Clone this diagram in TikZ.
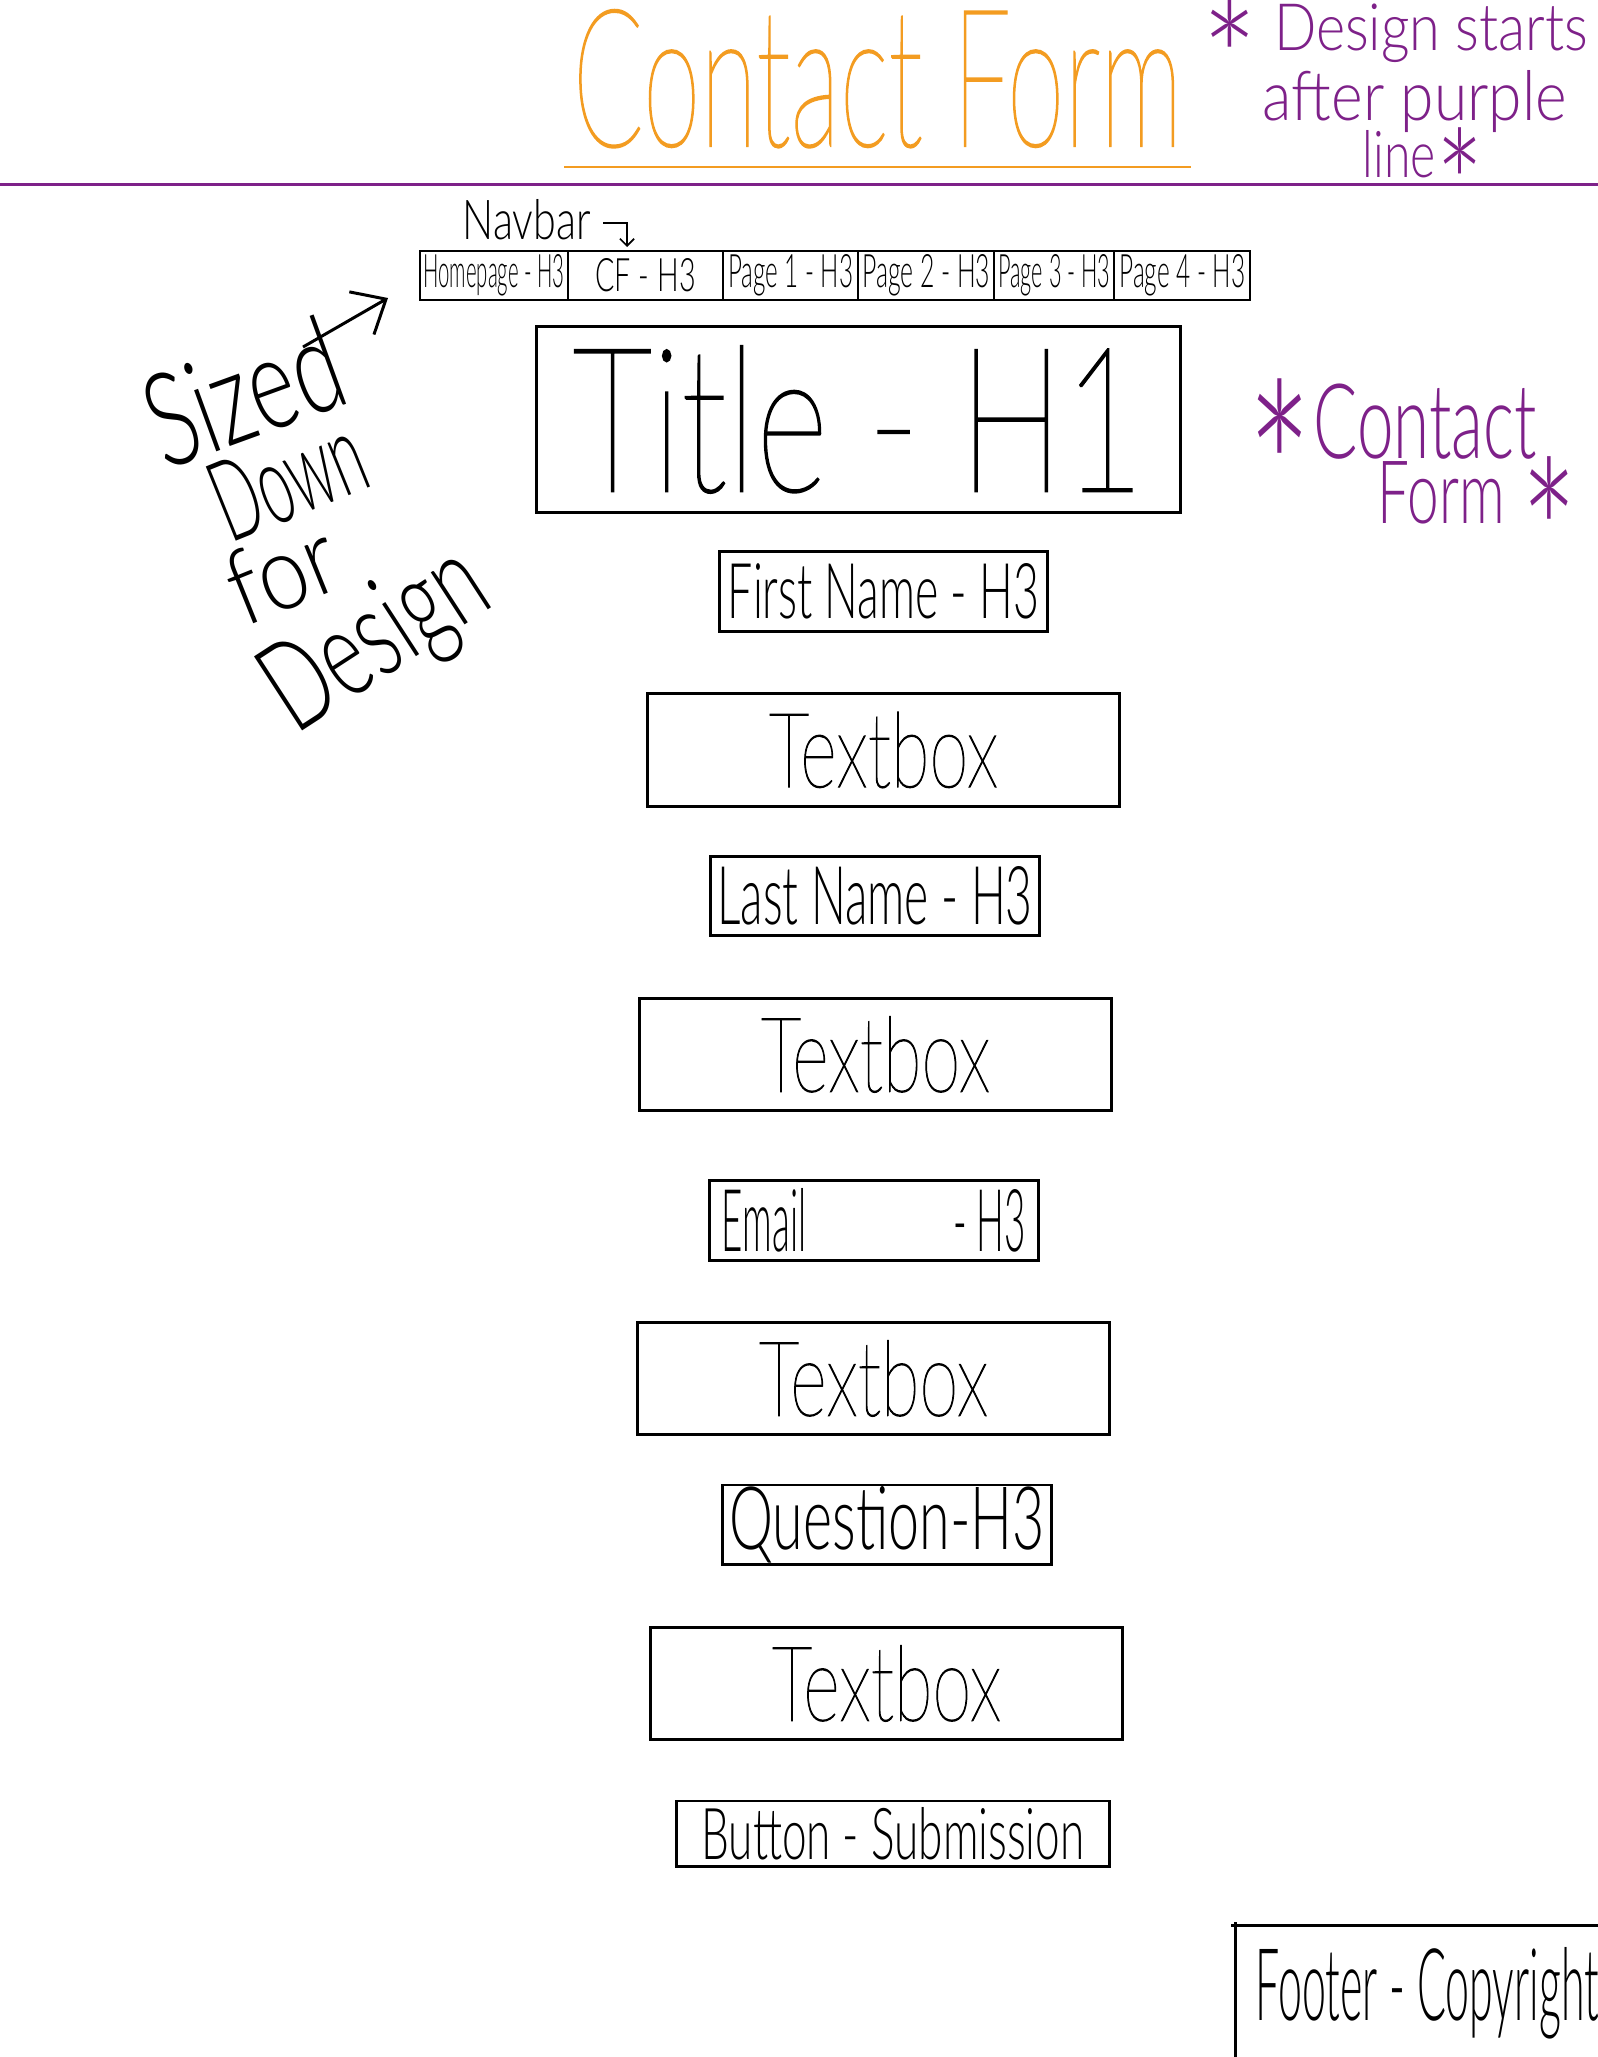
\documentclass[tikz,border=0pt]{standalone}
\usepackage{fontspec}
\IfFontExistsTF{Lato Light}{\setmainfont{Lato Light}}{\setmainfont{Liberation Sans}}
\IfFontExistsTF{Lato Thin}{\newfontfamily\penmid{Lato Thin}[FakeBold=1.2]}{\newfontfamily\penmid{Liberation Sans}}
\usepackage{graphicx}
\usetikzlibrary{positioning,arrows.meta}
\definecolor{penorange}{HTML}{F39C21}
\definecolor{penpurple}{HTML}{7E2189}
% text stretched to the size of the pen strokes
\newcommand{\inkbox}[3]{\resizebox{#1}{#2}{#3}}
\newcommand{\penstar}{\raisebox{-1.03em}[0.72em][0pt]{\scalebox{2.4}{*}}}
\tikzset{
  pagebox/.style={draw,line width=0.85pt,inner sep=0pt,outer sep=0pt},
  navcell/.style={draw,line width=0.55pt,minimum height=4.9mm,inner sep=0pt,outer sep=0pt},
  hthree/.style={pagebox,minimum width=32.8mm,minimum height=7.9mm},
  tbox/.style={pagebox,minimum width=47.1mm,minimum height=11.2mm,font=\penmid},
  scrawl/.style={inner sep=0pt},
}
\begin{document}
\begin{tikzpicture}[x=0.01cm,y=-0.01cm]
\useasboundingbox (0,0) rectangle (1598,2057);
% heading and purple line
\node[scrawl,anchor=base west,text=penorange,font=\penmid] (heading) at (572,146) {\inkbox{60.9mm}{13.6mm}{Contact Form}};
\draw[penorange,line width=0.7pt] (564,167) -- (1191,167);
\draw[penpurple,line width=0.85pt] (0,184) -- (1598,184);
\node[scrawl,anchor=base,text=penpurple] (note1) at (1395,50) {\inkbox{38.6mm}{4.7mm}{\penstar{} Design starts}};
\node[scrawl,anchor=base,text=penpurple] (note2) at (1415,120) {\inkbox{30.4mm}{5.0mm}{after purple}};
\node[scrawl,anchor=base,text=penpurple] (note3) at (1424,177) {\inkbox{12.2mm}{4.7mm}{line\penstar}};
\node[scrawl,anchor=base west,text=penpurple] (cfnote1) at (1246,458) {\inkbox{29mm}{7.5mm}{\penstar Contact}};
\node[scrawl,anchor=base west,text=penpurple] (cfnote2) at (1377,523) {\inkbox{20mm}{6.3mm}{Form \penstar}};
% navbar
\node[scrawl,anchor=base west] (navlbl) at (462,239) {\inkbox{12.8mm}{4.0mm}{Navbar}};
\coordinate (navfrom) at (603,223);
\coordinate (navtip) at (627,247);
\draw[line width=0.5pt,-{Straight Barb[length=2pt,width=4pt]}] (navfrom) -| (navtip);
\node[navcell,minimum width=14.8mm] (nav1) at (494,275.5) {\inkbox{14.1mm}{3.3mm}{Homepage - H3}};
\node[navcell,minimum width=15.5mm,right=0pt of nav1] (nav2) {\inkbox{10mm}{3.3mm}{CF - H3}\hspace{4.7mm}};
\node[navcell,minimum width=13.5mm,right=0pt of nav2] (nav3) {\inkbox{12.5mm}{3.3mm}{Page 1 - H3}};
\node[navcell,minimum width=13.6mm,right=0pt of nav3] (nav4) {\inkbox{12.8mm}{3.3mm}{Page 2 - H3}};
\node[navcell,minimum width=12.0mm,right=0pt of nav4] (nav5) {\inkbox{11.2mm}{3.3mm}{Page 3 - H3}};
\node[navcell,minimum width=13.6mm,right=0pt of nav5] (nav6) {\inkbox{12.6mm}{3.3mm}{Page 4 - H3}};
% side note
\node[scrawl,rotate=20] (sized) at (243,392) {\inkbox{20mm}{9.5mm}{Sized}};
\node[scrawl,rotate=22] (down) at (288,478) {\inkbox{15.5mm}{8mm}{Down}};
\node[scrawl,rotate=22] (fornote) at (282,572) {\inkbox{11mm}{7.5mm}{for}};
\node[scrawl,rotate=33] (design) at (378,642) {\inkbox{24mm}{8.9mm}{Design}};
\coordinate (sizefrom) at (303,347);
\coordinate (sizeto) at (388,298);
\draw[line width=0.85pt,-{Straight Barb[length=8pt,width=14pt]}] (sizefrom) -- (sizeto);
% form
\node[pagebox,minimum width=64.3mm,minimum height=18.5mm,font=\penmid] (title) at (858.5,419.5) {\inkbox{57.1mm}{14.5mm}{Title - H1}\hspace{1.8mm}};
\node[hthree] (fname) at (883.5,591.5) {\inkbox{31.1mm}{5.5mm}{First Name - H3}};
\node[tbox] (fbox) at (883.5,750) {\inkbox{22.9mm}{7.5mm}{Textbox}\hspace{4.2mm}};
\node[hthree] (lname) at (875,896) {\inkbox{31.5mm}{5.8mm}{Last Name - H3}};
\node[tbox] (lbox) at (875.5,1054.5) {\inkbox{22.9mm}{7.5mm}{Textbox}\hspace{4.2mm}};
\node[hthree] (email) at (874,1220.5) {\inkbox{30.4mm}{6.3mm}{Email\hspace{4em}- H3}};
\node[tbox] (ebox) at (873.5,1378.5) {\inkbox{22.9mm}{7.5mm}{Textbox}\hspace{4.2mm}};
\node[hthree] (quest) at (887,1524.5) {\inkbox{31.5mm}{6.3mm}{Question-H3}};
\node[tbox] (qbox) at (886.5,1683.5) {\inkbox{22.9mm}{7.5mm}{Textbox}\hspace{4.2mm}};
\node[pagebox,minimum width=43.2mm,minimum height=6.5mm] (submit) at (893,1833.5) {\inkbox{38.3mm}{5.2mm}{Button - Submission}};
% footer
\draw[line width=0.85pt] (1231,1925) -- (1598,1925);
\draw[line width=0.85pt] (1235,1922) -- (1235,2057);
\node[scrawl,anchor=base west] (footer) at (1255,2020) {\inkbox{34.3mm}{7.3mm}{Footer - Copyright}};
\end{tikzpicture}
\end{document}
